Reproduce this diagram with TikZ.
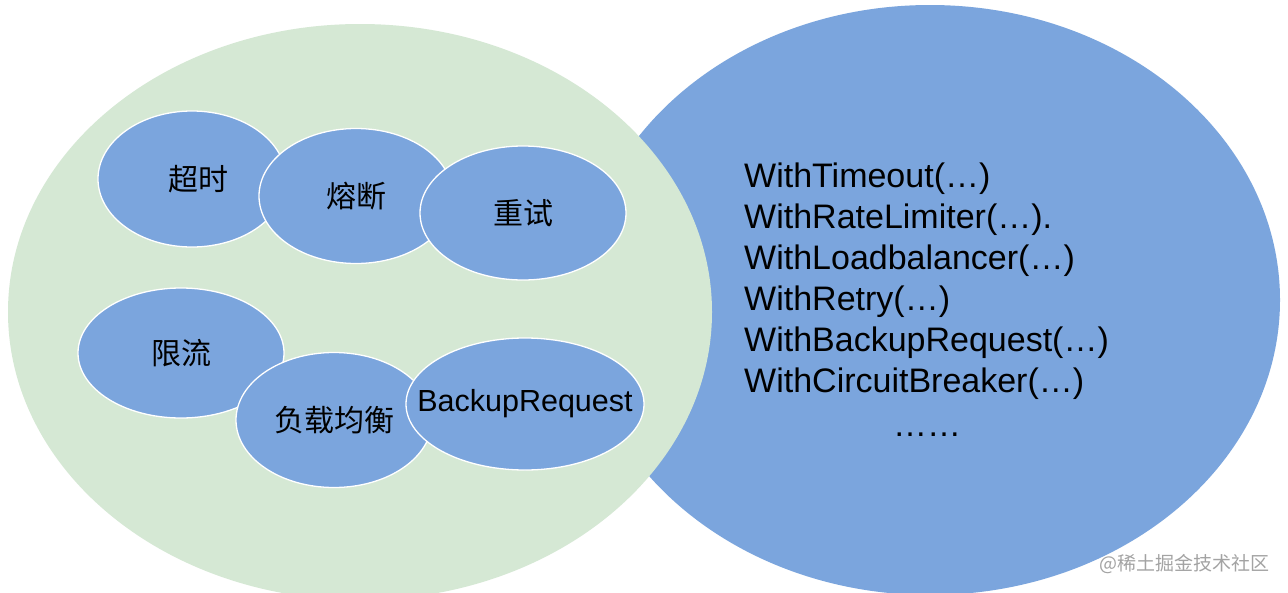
\documentclass[tikz,border=0pt]{standalone}
\usepackage{fontspec}
\setmainfont{Liberation Sans}
\newfontfamily\cjk{Noto Sans CJK SC}
\usetikzlibrary{shapes.geometric}
\definecolor{bubbleblue}{HTML}{7BA5DD}
\definecolor{palegreen}{HTML}{D5E8D4}
\definecolor{wmgray}{HTML}{A3A3A3}
\tikzset{
  bigell/.style={ellipse, inner sep=0pt, outer sep=0pt},
  bubble/.style={ellipse, fill=bubbleblue, draw=white, line width=1.3pt, inner sep=0pt, outer sep=0pt},
  cjklabel/.style={font=\cjk\fontsize{30}{36}\selectfont, inner sep=0pt},
  latinlabel/.style={font=\fontsize{30.5}{36}\selectfont, inner sep=0pt},
  apiline/.style={anchor=base west, inner sep=0pt, font=\fontsize{34}{41}\selectfont},
}
\begin{document}
\begin{tikzpicture}[x=1pt,y=-1pt]
\useasboundingbox (0,0) rectangle (1288,592);
\clip (0,0) rectangle (1288,592);
\fill[white] (0,0) rectangle (1288,592);
% large ellipses
\node[bigell, fill=bubbleblue, minimum width=700pt, minimum height=590pt] (api) at (930,300) {};
\node[bigell, fill=palegreen, minimum width=704pt, minimum height=576pt] (gov) at (360,312) {};
% top row bubbles
\node[bubble, minimum width=188pt, minimum height=136pt, label={[cjklabel, xshift=6pt]center:超时}] (timeout) at (192,179) {};
\node[bubble, minimum width=194pt, minimum height=135pt, label={[cjklabel]center:熔断}] (breaker) at (356,196) {};
\node[bubble, minimum width=206pt, minimum height=134pt, label={[cjklabel]center:重试}] (retry) at (523,213) {};
% bottom row bubbles
\node[bubble, minimum width=206pt, minimum height=130pt, label={[cjklabel]center:限流}] (limit) at (181,353) {};
\node[bubble, minimum width=196pt, minimum height=135pt, label={[cjklabel]center:负载均衡}] (lb) at (334,420) {};
\node[bubble, minimum width=238pt, minimum height=132pt, label={[latinlabel]center:BackupRequest}] (backup) at (525,404) {};
% API list
\node[apiline] (l1) at (744,187) {WithTimeout(…)};
\node[apiline] (l2) at (744,228) {WithRateLimiter(…).};
\node[apiline] (l3) at (744,269) {WithLoadbalancer(…)};
\node[apiline] (l4) at (744,310) {WithRetry(…)};
\node[apiline] (l5) at (744,351) {WithBackupRequest(…)};
\node[apiline] (l6) at (744,392) {WithCircuitBreaker(…)};
\node[apiline] (l7) at (893,436) {……};
% watermark
\node[anchor=base east, inner sep=0pt, text=wmgray, font=\cjk\fontsize{19}{22}\selectfont] (wm) at (1270,570) {@稀土掘金技术社区};
\end{tikzpicture}
\end{document}
